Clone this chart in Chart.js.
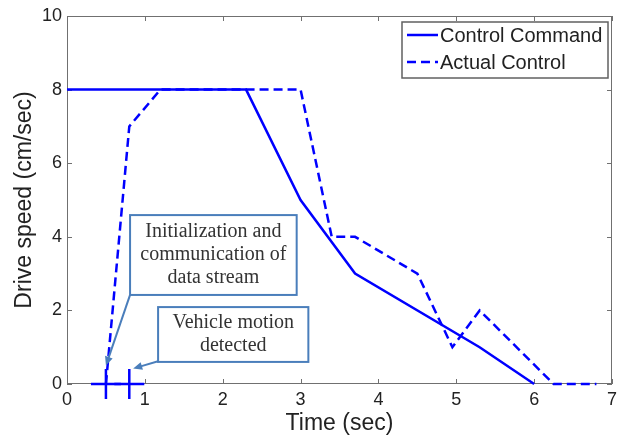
<!DOCTYPE html>
<html>
<head>
<meta charset="utf-8">
<script src="https://cdn.jsdelivr.net/npm/chart.js@4.4.1/dist/chart.umd.min.js"></script>
<style>
  html, body { margin: 0; padding: 0; background: #fff; }
</style>
</head>
<body>
<canvas id="speed-chart" width="621" height="445"></canvas>
<script>
// values
const commandTime = [0, 2.3, 3, 3.7, 5.3, 6];
const commandSpeed = [8, 8, 5, 3, 1, 0];
const actualTime = [0.5, 0.8, 1.2, 3, 3.4, 3.7, 4.5, 4.95, 5.3, 6.25, 6.8];
const actualSpeed = [0, 7, 8, 8, 4, 4, 3, 1, 2, 0, 0];
const eventTime = [0.5, 0.8];
const eventSpeed = [0, 0];
const xTicks = [0, 1, 2, 3, 4, 5, 6, 7];
const yTicks = [0, 2, 4, 6, 8, 10];
const seriesNames = ['Control Command', 'Actual Control'];
const notes = [
  { lines: ['Initialization and', 'communication of', 'data stream'], box: [0.81, 4.59, 2.95, 2.42], from: [0.81, 2.42], to: [0.5, 0.5] },
  { lines: ['Vehicle motion', 'detected'], box: [1.17, 2.09, 3.1, 0.6], from: [1.17, 0.62], to: [0.85, 0.42] }
];

const BLUE = '#0000ff';
const NOTE = '#4a7ebb';

function toPoints(xs, ys) {
  return xs.map((v, i) => ({ x: v, y: ys[i] }));
}

const framePlugin = {
  id: 'frame',
  beforeDatasetsDraw(chart) {
    const { ctx, chartArea: a, scales: { x, y } } = chart;
    ctx.save();
    ctx.strokeStyle = '#707070';
    ctx.lineWidth = 1;
    ctx.strokeRect(a.left + 0.5, a.top + 0.5, a.width - 1, a.height - 1);
    ctx.beginPath();
    xTicks.forEach(t => {
      const px = Math.round(x.getPixelForValue(t)) + 0.5;
      ctx.moveTo(px, a.bottom); ctx.lineTo(px, a.bottom - 5);
      ctx.moveTo(px, a.top); ctx.lineTo(px, a.top + 5);
    });
    yTicks.forEach(t => {
      const py = Math.round(y.getPixelForValue(t)) + 0.5;
      ctx.moveTo(a.left, py); ctx.lineTo(a.left + 5, py);
      ctx.moveTo(a.right, py); ctx.lineTo(a.right - 5, py);
    });
    ctx.stroke();
    ctx.restore();
  },
  afterDatasetsDraw(chart) {
    const { ctx, chartArea: a, scales: { x, y } } = chart;
    ctx.save();

    // annotation boxes and arrows
    notes.forEach(n => {
      const x1 = x.getPixelForValue(n.box[0]), y1 = y.getPixelForValue(n.box[1]);
      const x2 = x.getPixelForValue(n.box[2]), y2 = y.getPixelForValue(n.box[3]);
      ctx.fillStyle = '#fff';
      ctx.fillRect(x1, y1, x2 - x1, y2 - y1);
      ctx.strokeStyle = NOTE;
      ctx.lineWidth = 2;
      ctx.strokeRect(x1, y1, x2 - x1, y2 - y1);
      ctx.fillStyle = '#333';
      ctx.font = '20px "Liberation Serif"';
      ctx.textAlign = 'center';
      ctx.textBaseline = 'middle';
      const cx = (x1 + x2) / 2, cy = (y1 + y2) / 2;
      n.lines.forEach((s, i) => {
        ctx.fillText(s, cx, cy + (i - (n.lines.length - 1) / 2) * 23);
      });
      const fx = x.getPixelForValue(n.from[0]), fy = y.getPixelForValue(n.from[1]);
      const tx = x.getPixelForValue(n.to[0]), ty = y.getPixelForValue(n.to[1]);
      const ang = Math.atan2(ty - fy, tx - fx);
      ctx.beginPath();
      ctx.moveTo(fx, fy);
      ctx.lineTo(tx - 6 * Math.cos(ang), ty - 6 * Math.sin(ang));
      ctx.stroke();
      ctx.fillStyle = NOTE;
      ctx.beginPath();
      ctx.moveTo(tx, ty);
      ctx.lineTo(tx - 9 * Math.cos(ang) + 4 * Math.sin(ang), ty - 9 * Math.sin(ang) - 4 * Math.cos(ang));
      ctx.lineTo(tx - 9 * Math.cos(ang) - 4 * Math.sin(ang), ty - 9 * Math.sin(ang) + 4 * Math.cos(ang));
      ctx.closePath();
      ctx.fill();
    });

    // legend box, top right inside the axes
    const lx = a.right - 210, ly = a.top + 6;
    ctx.fillStyle = '#fff';
    ctx.fillRect(lx, ly, 206, 56);
    ctx.strokeStyle = '#606060';
    ctx.lineWidth = 1.5;
    ctx.strokeRect(lx, ly, 206, 56);
    chart.data.datasets.slice(0, 2).forEach((ds, i) => {
      const ry = ly + 13 + i * 27;
      ctx.strokeStyle = ds.borderColor;
      ctx.lineWidth = ds.borderWidth;
      ctx.setLineDash(ds.borderDash || []);
      ctx.beginPath();
      ctx.moveTo(lx + 5, ry); ctx.lineTo(lx + 36, ry);
      ctx.stroke();
      ctx.setLineDash([]);
      ctx.fillStyle = '#222';
      ctx.font = '20px "Liberation Sans"';
      ctx.textAlign = 'left';
      ctx.textBaseline = 'middle';
      ctx.fillText(ds.label, lx + 38, ry + 1);
    });
    ctx.restore();
  }
};

new Chart(document.querySelector('#speed-chart').getContext('2d'), {
  type: 'scatter',
  data: {
    datasets: [
      {
        label: seriesNames[0],
        data: toPoints(commandTime, commandSpeed),
        showLine: true,
        borderColor: BLUE,
        borderWidth: 2.5,
        pointRadius: 0,
        clip: false
      },
      {
        label: seriesNames[1],
        data: toPoints(actualTime, actualSpeed),
        showLine: true,
        borderColor: BLUE,
        borderWidth: 2.5,
        borderDash: [9, 5],
        pointRadius: 0,
        clip: false
      },
      {
        label: 'events',
        data: toPoints(eventTime, eventSpeed),
        showLine: false,
        pointStyle: 'cross',
        pointRadius: 15,
        pointBorderWidth: 2.5,
        borderColor: BLUE,
        clip: false
      }
    ]
  },
  options: {
    responsive: false,
    animation: false,
    events: [],
    layout: { autoPadding: false, padding: { left: 0, right: 9, top: 16, bottom: 0 } },
    plugins: { legend: { display: false }, tooltip: { enabled: false } },
    scales: {
      x: {
        type: 'linear',
        min: 0,
        max: 7,
        afterFit(scale) { scale.height = 61; scale.paddingLeft = 0; scale.paddingRight = 0; },
        afterBuildTicks(scale) { scale.ticks = xTicks.map(v => ({ value: v })); },
        grid: { display: false, drawTicks: false },
        border: { display: false },
        ticks: { padding: 5, color: '#222', font: { family: 'Liberation Sans', size: 18 } },
        title: { display: true, text: 'Time (sec)', color: '#222', padding: { top: 0, bottom: 8 }, font: { family: 'Liberation Sans', size: 23 } }
      },
      y: {
        type: 'linear',
        min: 0,
        max: 10,
        afterFit(scale) { scale.width = 67; scale.paddingTop = 0; scale.paddingBottom = 0; },
        afterBuildTicks(scale) { scale.ticks = yTicks.map(v => ({ value: v })); },
        grid: { display: false, drawTicks: false },
        border: { display: false },
        ticks: { padding: 5, color: '#222', font: { family: 'Liberation Sans', size: 18 } },
        title: { display: true, text: 'Drive speed (cm/sec)', color: '#222', padding: { top: 11, bottom: 0 }, font: { family: 'Liberation Sans', size: 23 } }
      }
    }
  },
  plugins: [framePlugin]
});
</script>
</body>
</html>
